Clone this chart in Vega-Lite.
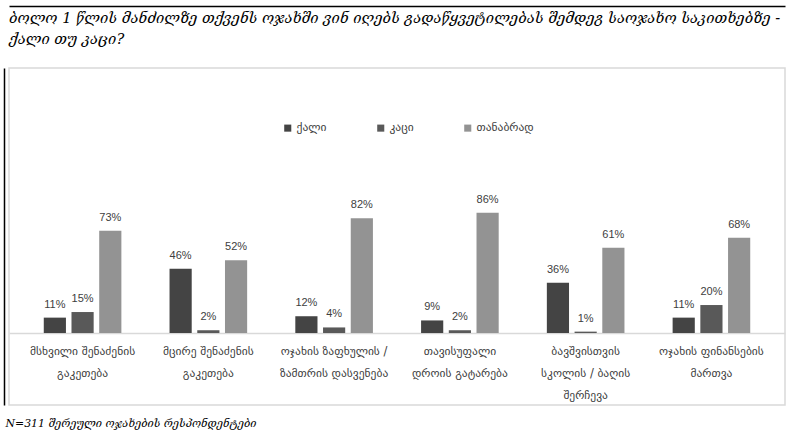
{
  "$schema": "https://vega.github.io/schema/vega-lite/v6.json",
  "width": 776,
  "height": 337,
  "autosize": {"type": "none"},
  "padding": {"left": 9, "top": 68, "right": 5, "bottom": 33},
  "background": "white",
  "title": {
    "text": ["ბოლო 1 წლის მანძილზე თქვენს ოჯახში ვინ იღებს გადაწყვეტილებას შემდეგ საოჯახო საკითხებზე -", "ქალი თუ კაცი?"],
    "anchor": "start",
    "frame": "group",
    "font": "DejaVu Serif",
    "fontStyle": "italic",
    "fontWeight": "normal",
    "fontSize": 14.6,
    "lineHeight": 21,
    "color": "#000000",
    "offset": -41
  },
  "config": {
    "view": {"stroke": "#d9d9d9", "strokeWidth": 1.5}
  },
  "data": {
    "values": [
      {"cat": "მსხვილი შენაძენის|გაკეთება", "series": "ქალი", "value": 11},
      {"cat": "მსხვილი შენაძენის|გაკეთება", "series": "კაცი", "value": 15},
      {"cat": "მსხვილი შენაძენის|გაკეთება", "series": "თანაბრად", "value": 73},
      {"cat": "მცირე შენაძენის|გაკეთება", "series": "ქალი", "value": 46},
      {"cat": "მცირე შენაძენის|გაკეთება", "series": "კაცი", "value": 2},
      {"cat": "მცირე შენაძენის|გაკეთება", "series": "თანაბრად", "value": 52},
      {"cat": "ოჯახის ზაფხულის /|ზამთრის დასვენება", "series": "ქალი", "value": 12},
      {"cat": "ოჯახის ზაფხულის /|ზამთრის დასვენება", "series": "კაცი", "value": 4},
      {"cat": "ოჯახის ზაფხულის /|ზამთრის დასვენება", "series": "თანაბრად", "value": 82},
      {"cat": "თავისუფალი|დროის გატარება", "series": "ქალი", "value": 9},
      {"cat": "თავისუფალი|დროის გატარება", "series": "კაცი", "value": 2},
      {"cat": "თავისუფალი|დროის გატარება", "series": "თანაბრად", "value": 86},
      {"cat": "ბავშვისთვის|სკოლის / ბაღის|შერჩევა", "series": "ქალი", "value": 36},
      {"cat": "ბავშვისთვის|სკოლის / ბაღის|შერჩევა", "series": "კაცი", "value": 1},
      {"cat": "ბავშვისთვის|სკოლის / ბაღის|შერჩევა", "series": "თანაბრად", "value": 61},
      {"cat": "ოჯახის ფინანსების|მართვა", "series": "ქალი", "value": 11},
      {"cat": "ოჯახის ფინანსების|მართვა", "series": "კაცი", "value": 20},
      {"cat": "ოჯახის ფინანსების|მართვა", "series": "თანაბრად", "value": 68}
    ]
  },
  "transform": [
    {"calculate": "datum.value + '%'", "as": "label"}
  ],
  "encoding": {
    "xOffset": {
      "field": "series",
      "type": "nominal",
      "sort": ["ქალი", "კაცი", "თანაბრად"],
      "scale": {"paddingInner": 0.2, "paddingOuter": 0.12}
    },
    "y": {
      "field": "value",
      "type": "quantitative",
      "scale": {"domain": [-51.4, 189.3], "nice": false, "zero": false},
      "axis": {
        "orient": "left",
        "offset": 5,
        "labels": false,
        "ticks": false,
        "grid": false,
        "title": null,
        "domainColor": "#000000",
        "domainWidth": 1.5
      }
    }
  },
  "layer": [
    {
      "mark": {"type": "bar"},
      "encoding": {
        "x": {
          "field": "cat",
          "type": "nominal",
          "sort": null,
          "scale": {"paddingInner": 0.33, "paddingOuter": 0.25},
          "axis": {
            "orient": "bottom",
            "offset": -72,
            "labelAngle": 0,
            "labelExpr": "split(datum.label, '|')",
            "labelFont": "DejaVu Sans",
            "labelFontSize": 11.5,
            "labelColor": "#404040",
            "labelLineHeight": 22,
            "labelPadding": 12,
            "ticks": false,
            "domainColor": "#d9d9d9",
            "domainWidth": 1.5,
            "title": "N=311 შერეული ოჯახების რესპონდენტები",
            "titleFont": "DejaVu Serif",
            "titleFontStyle": "italic",
            "titleFontWeight": "normal",
            "titleFontSize": 10.9,
            "titleColor": "#000000",
            "titleAnchor": "start",
            "titleAlign": "left",
            "titleX": -4,
            "titlePadding": 17
          }
        },
        "y2": {"datum": 0},
        "color": {
          "field": "series",
          "type": "nominal",
          "sort": ["ქალი", "კაცი", "თანაბრად"],
          "scale": {"domain": ["ქალი", "კაცი", "თანაბრად"], "range": ["#444444", "#595959", "#939393"]},
          "legend": {
            "orient": "none",
            "legendX": 273,
            "legendY": 54,
            "direction": "horizontal",
            "columns": 3,
            "title": null,
            "symbolType": "square",
            "symbolSize": 50,
            "symbolStrokeWidth": 0,
            "labelFont": "DejaVu Sans",
            "labelFontSize": 11.5,
            "labelColor": "#404040",
            "labelOffset": 3,
            "columnPadding": 48
          }
        }
      }
    },
    {
      "mark": {"type": "text", "dy": -8, "baseline": "bottom", "font": "Liberation Sans", "fontSize": 11, "color": "#404040"},
      "encoding": {
        "x": {
          "field": "cat",
          "type": "nominal",
          "sort": null,
          "axis": {
            "orient": "top",
            "offset": 62,
            "domain": true,
            "labels": false,
            "ticks": false,
            "title": null,
            "domainColor": "#000000",
            "domainWidth": 1.5
          }
        },
        "text": {"field": "label", "type": "nominal"},
        "y": {"field": "value", "type": "quantitative"}
      }
    }
  ],
  "resolve": {"axis": {"x": "independent"}}
}
